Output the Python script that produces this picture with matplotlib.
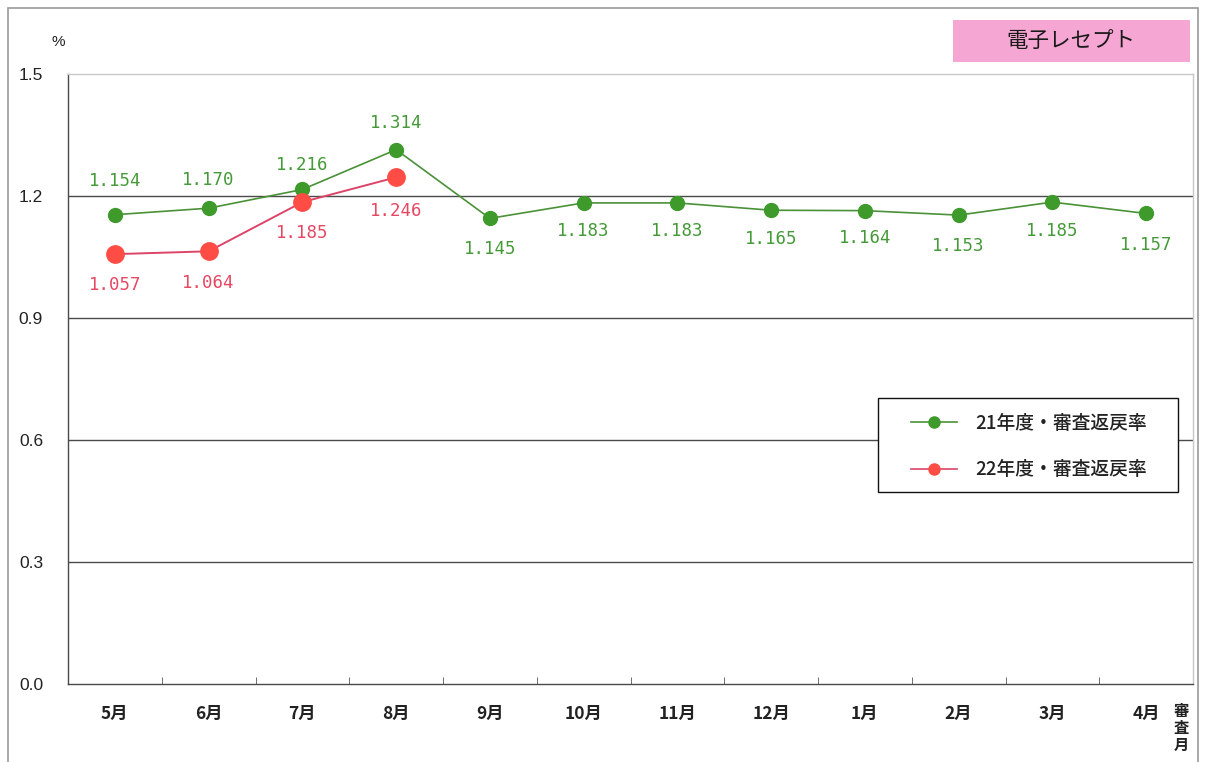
import matplotlib
matplotlib.use("Agg")
import matplotlib.pyplot as plt
from matplotlib.patches import Rectangle
from matplotlib.lines import Line2D

plt.rcParams['font.family'] = ['Noto Sans CJK JP', 'DejaVu Sans']

months = ["5月", "6月", "7月", "8月", "9月", "10月", "11月", "12月", "1月", "2月", "3月", "4月"]
rate_21 = [1.154, 1.170, 1.216, 1.314, 1.145, 1.183, 1.183, 1.165, 1.164, 1.153, 1.185, 1.157]
rate_22 = [1.057, 1.064, 1.185, 1.246]
label_21 = "21年度・審査返戻率"
label_22 = "22年度・審査返戻率"
yticks = [0.0, 0.3, 0.6, 0.9, 1.2, 1.5]

# vertical label offsets in points (positive = above the marker)
offset_21 = [24, 20, 17.5, 19.5, -22, -20.5, -20.5, -21, -20, -22.5, -21, -23]
offset_22 = [-22.5, -22.5, -22, -24]

W, H = 1211, 762
fig = plt.figure(figsize=(W / 100, H / 100), dpi=100)

def fx(px):
    return px / W

def fy(py):
    return 1 - py / H

# outer frame
fig.patches.append(Rectangle((fx(8), fy(770)), fx(1198 - 8), (770 - 8) / H,
                             transform=fig.transFigure, fill=False,
                             edgecolor="#9a9a9a", linewidth=1.2))

ax = fig.add_axes([fx(68), fy(684), fx(1193 - 68), (684 - 74) / H])

green_line = "#4a9138"
green_mk = "#3f9a2c"
green_txt = "#459a38"
red_line = "#dc4468"
red_mk = "#ff4d45"
red_txt = "#e64862"

x21 = list(range(len(rate_21)))
x22 = list(range(len(rate_22)))

for v in yticks[1:-1]:
    ax.axhline(v, color="#4a4a4a", linewidth=1.0, zorder=1)

ax.plot(x21, rate_21, color=green_line, linewidth=1.2, marker="o", markersize=10,
        markerfacecolor=green_mk, markeredgecolor=green_mk, zorder=3)
ax.plot(x22, rate_22, color=red_line, linewidth=1.4, marker="o", markersize=12.5,
        markerfacecolor=red_mk, markeredgecolor=red_mk, zorder=4)

num_font = "DejaVu Sans Mono"
for i, (v, dy) in enumerate(zip(rate_21, offset_21)):
    ax.annotate(f"{v:.3f}", (i, v), xytext=(0, dy),
                textcoords="offset points", ha="center", va="center",
                color=green_txt, fontsize=12.5, family=num_font)
for i, (v, dy) in enumerate(zip(rate_22, offset_22)):
    ax.annotate(f"{v:.3f}", (i, v), xytext=(0, dy),
                textcoords="offset points", ha="center", va="center",
                color=red_txt, fontsize=12.5, family=num_font)

ax.set_xlim(-0.5, len(months) - 0.5)
ax.set_ylim(0, 1.5)
ax.set_yticks(yticks)
ax.set_yticklabels([f"{v:.1f}" for v in yticks], fontsize=12.5,
                   family="Liberation Sans", color="#222222")
ax.set_xticks(x21)
ax.set_xticklabels(months, fontsize=12.5, color="#222222", fontweight="bold")
ax.set_xticks([i + 0.5 for i in range(len(months))], minor=True)
ax.tick_params(axis="x", which="major", length=0, pad=15)
ax.tick_params(axis="x", which="minor", direction="in", length=5, color="#555555")
ax.tick_params(axis="y", length=0, pad=18)

for side in ["left", "bottom"]:
    ax.spines[side].set_color("#4a4a4a")
    ax.spines[side].set_linewidth(1.0)
for side in ["top", "right"]:
    ax.spines[side].set_color("#c8c8c8")
    ax.spines[side].set_linewidth(1.0)

fig.text(fx(58), fy(42), "%", ha="center", va="center", fontsize=11,
         family="Liberation Sans", color="#222222")
fig.text(fx(1181), fy(728), "審\n査\n月", ha="center", va="center", fontsize=11,
         color="#222222", linespacing=1.05, fontweight="bold")

# title badge
fig.patches.append(Rectangle((fx(953), fy(62)), fx(1190 - 953), (62 - 20) / H,
                             transform=fig.transFigure, facecolor="#f5a6d2",
                             edgecolor="none"))
fig.text(fx(1071), fy(42), "電子レセプト", ha="center", va="center",
         fontsize=15.5, color="#1a1a1a")

# legend: frame drawn separately so the padding can differ per side
fig.patches.append(Rectangle((fx(878), fy(492)), fx(1178 - 878), (492 - 398) / H,
                             transform=fig.transFigure, facecolor="white",
                             edgecolor="#111111", linewidth=1.0, zorder=5))
handles = [
    Line2D([], [], color=green_line, linewidth=1.2, marker="o", markersize=8,
           markerfacecolor=green_mk, markeredgecolor=green_mk),
    Line2D([], [], color=red_line, linewidth=1.2, marker="o", markersize=8,
           markerfacecolor=red_mk, markeredgecolor=red_mk),
]
leg = fig.legend(handles, [label_21, label_22], loc="upper left",
                 bbox_to_anchor=(fx(911), fy(414)), bbox_transform=fig.transFigure,
                 frameon=False, handlelength=2.45, handletextpad=1.0,
                 labelspacing=1.45, borderpad=0, borderaxespad=0,
                 prop={"size": 13.5, "weight": "medium"})
leg.set_zorder(6)
for t in leg.get_texts():
    t.set_color("#222222")

fig.savefig("out.png", dpi=100)
